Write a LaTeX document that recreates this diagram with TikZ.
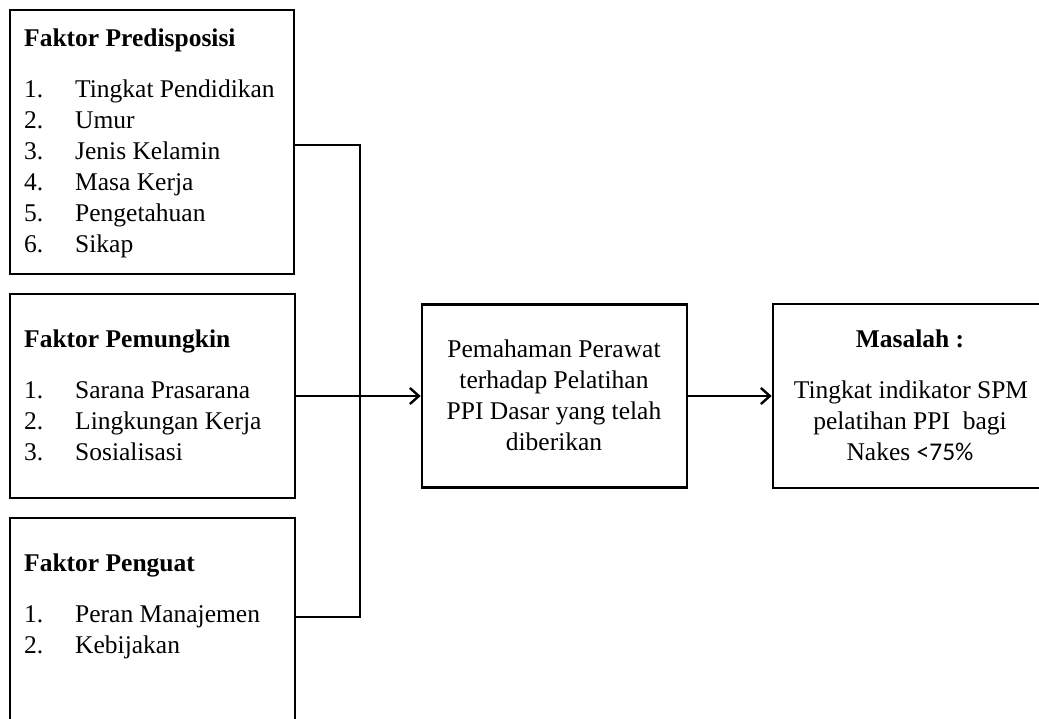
\documentclass[tikz,border=0pt]{standalone}
\usepackage{fontspec}
\setmainfont{Liberation Serif}
\newfontfamily\calib{Carlito}
\usetikzlibrary{arrows.meta}
\begin{document}
\begin{tikzpicture}[x=1pt,y=-1pt,
  box/.style={draw, line width=2.6pt, rectangle, inner sep=0pt},
  txt/.style={anchor=base west, inner sep=0pt, font=\fontsize{25.5}{31}\selectfont},
  ctxt/.style={anchor=base, inner sep=0pt, font=\fontsize{25.5}{31}\selectfont},
  conn/.style={line width=2.4pt},
  arr/.style={line width=2.4pt, -{Straight Barb[length=9pt,width=16pt,line width=2.4pt]}}]
\useasboundingbox (0,0) rectangle (1039,718);
\clip (0,0) rectangle (1039,718);
% boxes
\node[box, minimum width=284pt, minimum height=264pt] (b1) at (152,142) {};
\node[box, minimum width=285pt, minimum height=204pt] (b2) at (152.5,396) {};
\node[box, minimum width=285pt, minimum height=222pt] (b3) at (152.5,629) {};
\node[box, minimum width=265pt, minimum height=183pt] (mid) at (554.5,396) {};
\node[box, minimum width=272pt, minimum height=184pt] (mas) at (909,396) {};
% box 1 text
\node[txt] (t1) at (24,46) {\bfseries Faktor Predisposisi};
\node[txt] (n11) at (24,97) {1.};  \node[txt] (i11) at (75,97) {Tingkat Pendidikan};
\node[txt] (n12) at (24,128) {2.}; \node[txt] (i12) at (75,128) {Umur};
\node[txt] (n13) at (24,159) {3.}; \node[txt] (i13) at (75,159) {Jenis Kelamin};
\node[txt] (n14) at (24,190) {4.}; \node[txt] (i14) at (75,190) {Masa Kerja};
\node[txt] (n15) at (24,221) {5.}; \node[txt] (i15) at (75,221) {Pengetahuan};
\node[txt] (n16) at (24,252) {6.}; \node[txt] (i16) at (75,252) {Sikap};
% box 2 text
\node[txt] (t2) at (24,347) {\bfseries Faktor Pemungkin};
\node[txt] (n21) at (24,398) {1.}; \node[txt] (i21) at (75,398) {Sarana Prasarana};
\node[txt] (n22) at (24,429) {2.}; \node[txt] (i22) at (75,429) {Lingkungan Kerja};
\node[txt] (n23) at (24,460) {3.}; \node[txt] (i23) at (75,460) {Sosialisasi};
% box 3 text
\node[txt] (t3) at (24,571) {\bfseries Faktor Penguat};
\node[txt] (n31) at (24,622) {1.}; \node[txt] (i31) at (75,622) {Peran Manajemen};
\node[txt] (n32) at (24,653) {2.}; \node[txt] (i32) at (75,653) {Kebijakan};
% middle text
\node[ctxt] (m1) at (554,357) {Pemahaman\ Perawat};
\node[ctxt] (m2) at (554,388) {terhadap\ Pelatihan};
\node[ctxt] (m3) at (554,419) {PPI Dasar\ yang\ telah};
\node[ctxt] (m4) at (554,450) {diberikan};
% right text
\node[ctxt] (r0) at (910,347) {\bfseries Masalah :};
\node[ctxt] (r1) at (911,398) {Tingkat\ indikator\ SPM};
\node[ctxt] (r2) at (910,429) {pelatihan\ PPI\ \ bagi};
\node[ctxt] (r3) at (910,460) {Nakes {\calib <75\%}};
% connectors
\coordinate (j1) at (360,145);
\coordinate (j2) at (360,396);
\coordinate (j3) at (360,617);
\draw[conn] (b1.east |- j1) -- (j1) -- (j3) -- (b3.east |- j3);
\draw[arr] (b2.east |- j2) -- (mid.west |- j2);
\draw[arr] (mid.east) -- (mas.west);
\end{tikzpicture}
\end{document}
